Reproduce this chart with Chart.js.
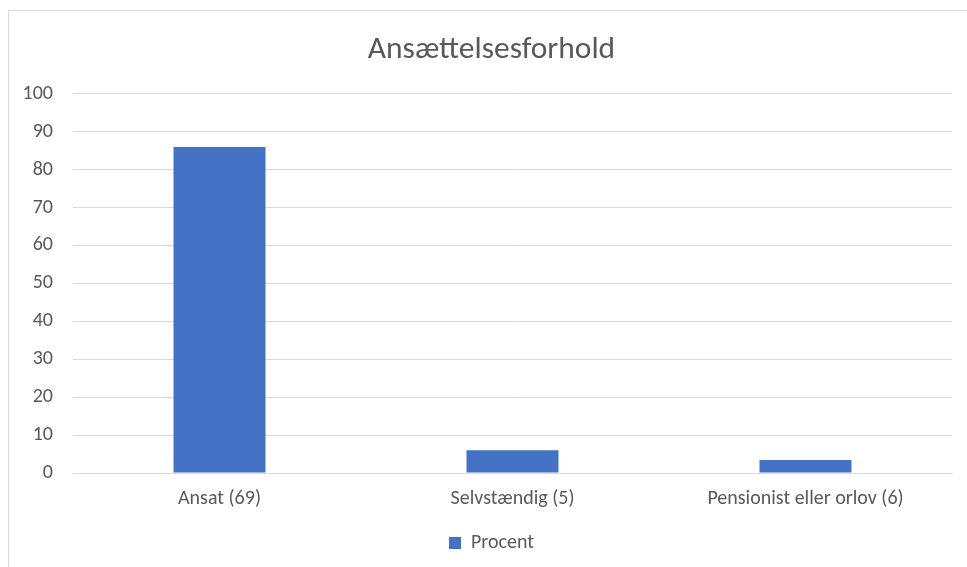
<!DOCTYPE html>
<html>
<head>
<meta charset="utf-8">
<title>Ansættelsesforhold</title>
<script src="https://cdn.jsdelivr.net/npm/chart.js@4/dist/chart.umd.min.js"></script>
<style>
  html, body { margin: 0; padding: 0; background: #fff; overflow: hidden; }
  #wrap {
    position: absolute; left: 8px; top: 10px; width: 959px; height: 557px;
    border-top: 1px solid #d9d9d9; border-left: 1px solid #d9d9d9;
    box-sizing: border-box;
  }
  #chart { display: block; }
</style>
</head>
<body>
<div id="wrap"><canvas id="chart" width="980" height="556"></canvas></div>
<script>
  // data
  const categories = ["Ansat (69)", "Selvstændig (5)", "Pensionist eller orlov (6)"];
  const procent = [86, 6, 3.4];
  const seriesName = "Procent";
  const yTicks = [0, 10, 20, 30, 40, 50, 60, 70, 80, 90, 100];

  const ink = "#595959", grid = "#d9d9d9", blue = "#4472c4";
  Chart.defaults.font.family = "Carlito, Calibri, 'Liberation Sans', sans-serif";
  Chart.defaults.color = ink;

  new Chart(document.getElementById("chart"), {
    type: "bar",
    data: {
      labels: categories,
      datasets: [{
        label: seriesName, data: procent, backgroundColor: blue,
        categoryPercentage: 1, barPercentage: 0.314,
      }],
    },
    options: {
      responsive: false, animation: false,
      layout: { padding: { left: 0, right: 15, top: 0, bottom: 4 } },
      plugins: {
        title: { display: true, text: "Ansættelsesforhold", color: ink,
          font: { size: 31.5, weight: "normal" }, padding: { top: 20, bottom: 25 } },
        legend: { position: "bottom",
          labels: { boxWidth: 12, boxHeight: 12, color: ink, font: { size: 20 }, padding: 10 } },
        tooltip: { enabled: false },
      },
      scales: {
        x: {
          grid: { display: false },
          border: { color: grid },
          afterFit: (s) => { s.height = 50; },
          ticks: { font: { size: 20 }, color: ink, padding: 6 },
        },
        y: {
          min: yTicks[0], max: yTicks[yTicks.length - 1],
          afterFit: (s) => { s.width = 64; },
          afterBuildTicks: (s) => { s.ticks = yTicks.map((v) => ({ value: v })); },
          grid: { color: grid, drawTicks: false },
          border: { display: false },
          ticks: { font: { size: 20 }, color: ink, padding: 20 },
        },
        // empty strip on the right so title and legend centre like the original
        spacer: {
          type: "linear", position: "right",
          afterFit: (s) => { s.width = 22; },
          grid: { display: false }, border: { display: false }, ticks: { display: false },
        },
      },
    },
  });
</script>
</body>
</html>
